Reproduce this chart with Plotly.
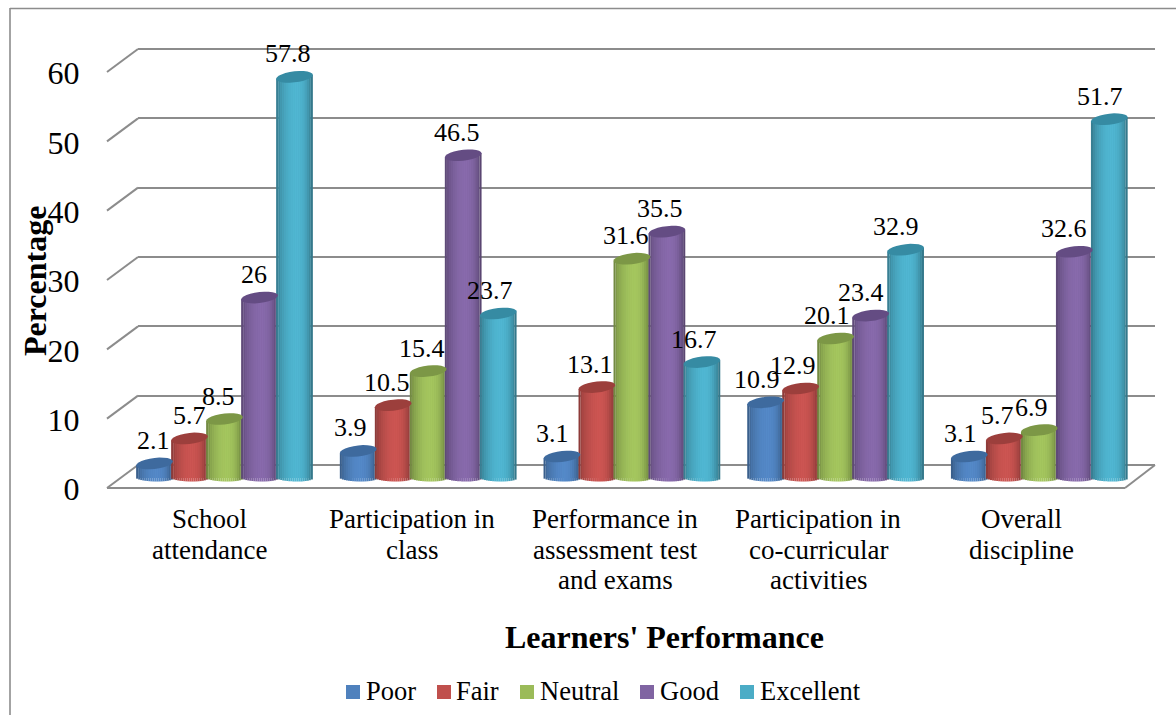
import math
import plotly.graph_objects as go

categories = [
    ["School", "attendance"],
    ["Participation in", "class"],
    ["Performance in", "assessment test", "and exams"],
    ["Participation in", "co-curricular", "activities"],
    ["Overall", "discipline"],
]
series_names = ["Poor", "Fair", "Neutral", "Good", "Excellent"]
poor = [2.1, 3.9, 3.1, 10.9, 3.1]
fair = [5.7, 10.5, 13.1, 12.9, 5.7]
neutral = [8.5, 15.4, 31.6, 20.1, 6.9]
good = [26, 46.5, 35.5, 23.4, 32.6]
excellent = [57.8, 23.7, 16.7, 32.9, 51.7]
series_values = [poor, fair, neutral, good, excellent]
y_ticks = [0, 10, 20, 30, 40, 50, 60]

# styling
colors = ["#4F81BD", "#C0504D", "#9BBB59", "#8064A2", "#4BACC6"]
top_colors = ["#3E6A9E", "#9C3F3C", "#7C9746", "#644C83", "#368BA3"]
shade = [0.74, 0.82, 0.88, 0.92, 0.96, 0.99, 1.02, 1.04, 1.05, 1.06, 1.06, 1.05, 1.03, 1.0, 0.95, 0.88, 0.8, 0.7]
label_dx = [
    [-1, -8, -9, -9, -9],
    [0, -6, -7, -8, -7],
    [-6, -6, -6, -9, -8],
    [-6, -6, -7, -10, -10],
    [-7, -8, -8, -10, -9],
]
W, H = 1176, 715
FONT = "Liberation Serif"
GREY = "#8c8c8c"
CAT_PX, CAT_STEP = 224.5, 203.7
BAR_PX, BAR_STEP = 36.7, 35.0
BASE_PX, UNIT_PX = 478.0, 6.94
ELL_B, ELL_TILT, FOOT_B, FOOT_TILT = 5.5, 2.0, 3.5, 0.5
WALL_PAD = 7 * 416 / 420  # one axis unit of padding, so the end gridlines are kept


def px(v):
    return v / W


def py(v):
    return 1 - v / H


def tint(col, f):
    r, g, b = (int(col[i:i + 2], 16) for i in (1, 3, 5))
    return "rgb(%d,%d,%d)" % tuple(min(255, round(c * f)) for c in (r, g, b))


fig = go.Figure()

# back wall: gridlines come from its own axes
fig.add_trace(go.Scatter(x=[0, 1], y=[0, 60], mode="markers", marker=dict(opacity=0),
                         xaxis="x", yaxis="y", hoverinfo="skip", showlegend=False))

bw = BAR_PX / CAT_STEP
step = BAR_STEP / CAT_STEP
for k, (name, vals, col) in enumerate(zip(series_names, series_values, colors)):
    xs = [i + (k - 2) * step for i in range(len(vals))]
    fig.add_trace(go.Bar(x=xs, y=vals, width=bw * 0.85, name=name, xaxis="x2", yaxis="y2",
                         marker=dict(color=col, line=dict(width=0)), showlegend=False))
    n = len(shade)
    sx, sy, sb, sc = [], [], [], []
    for x0, v in zip(xs, vals):
        for j, f in enumerate(shade):
            t = (j + 0.5) / n * 2 - 1
            foot = -(math.sqrt(1 - t * t) * FOOT_B + FOOT_TILT * t) / UNIT_PX
            head = v + ELL_TILT * t / UNIT_PX
            sx.append(x0 + t * bw / 2)
            sb.append(foot)
            sy.append(head - foot)
            sc.append(tint(col, f))
    fig.add_trace(go.Bar(x=sx, y=sy, base=sb, width=bw / n * 1.02, xaxis="x2", yaxis="y2",
                         marker=dict(color=sc, line=dict(width=0)), showlegend=False,
                         hoverinfo="skip"))

# invisible carrier for the front value axis
fig.add_trace(go.Scatter(x=[0, 1], y=[0, 60], mode="markers", marker=dict(opacity=0),
                         xaxis="x3", yaxis="y3", hoverinfo="skip", showlegend=False))

shapes, annos = [], []


def line(x0, y0, x1, y1, width=2):
    shapes.append(dict(type="line", xref="paper", yref="paper", x0=px(x0), y0=py(y0),
                       x1=px(x1), y1=py(y1), line=dict(color=GREY, width=width), layer="below"))


# page frame
line(10, 8.5, W, 8.5, 1.6)
line(10, 8, 10, H, 1.6)
# wall side and floor
for tk in y_ticks:
    d = tk * 416 / 60
    line(107, 488 - d, 138, 465 - d)
line(107, 488, 1125, 488)
line(1125, 488, 1155, 465)

# cylinder tops
for k, (vals, col) in enumerate(zip(series_values, top_colors)):
    for i, v in enumerate(vals):
        cx = i + (k - 2) * step
        pts = []
        for a in range(0, 360, 15):
            th = math.radians(a)
            dx = BAR_PX / 2 * math.cos(th)
            dy = ELL_B * math.sin(th) + ELL_TILT * math.cos(th)
            pts.append("%.5f,%.4f" % (cx + dx / CAT_STEP, v + dy / UNIT_PX))
        shapes.append(dict(type="path", xref="x2", yref="y2", path="M" + " L".join(pts) + " Z",
                           fillcolor=col, line=dict(width=0), layer="above"))
        annos.append(dict(x=cx, y=v, xref="x2", yref="y2", text=str(v), showarrow=False,
                          xshift=label_dx[k][i], yshift=23, xanchor="center", yanchor="middle",
                          font=dict(family=FONT, size=26, color="black")))

# category labels, one line at a time for the tight leading
for i, lines in enumerate(categories):
    for j, txt in enumerate(lines):
        annos.append(dict(x=i, xref="x3", y=py(519 + j * 30.5), yref="paper", text=txt,
                          xanchor="center", yanchor="middle", showarrow=False,
                          font=dict(family=FONT, size=27, color="black")))

annos.append(dict(x=px(664), y=py(637), xref="paper", yref="paper", text="<b>Learners' Performance</b>",
                  xanchor="center", yanchor="middle", showarrow=False,
                  font=dict(family=FONT, size=32, color="black")))
annos.append(dict(x=px(35), y=py(281), xref="paper", yref="paper", text="<b>Percentage</b>", textangle=-90,
                  xanchor="center", yanchor="middle", showarrow=False,
                  font=dict(family=FONT, size=32, color="black")))

# key
key_swatch = [346, 437, 520, 640, 740]
key_text = [366, 456, 540, 660, 760]
for name, col, sx0, tx0 in zip(series_names, colors, key_swatch, key_text):
    shapes.append(dict(type="rect", xref="paper", yref="paper", x0=px(sx0), x1=px(sx0 + 14),
                       y0=py(685), y1=py(699), fillcolor=col, line=dict(width=0)))
    annos.append(dict(x=px(tx0 - 2), y=py(691), xref="paper", yref="paper", text=name, xanchor="left",
                      yanchor="middle", showarrow=False,
                      font=dict(family=FONT, size=26.5, color="black")))

hidden = dict(showticklabels=False, showgrid=False, zeroline=False, showline=False, ticks="")
fig.update_layout(
    width=W, height=H, autosize=False, margin=dict(l=0, r=0, t=0, b=0, autoexpand=False),
    paper_bgcolor="white", plot_bgcolor="rgba(0,0,0,0)", barmode="overlay", showlegend=False,
    hovermode=False,
    xaxis=dict(domain=[px(138), px(1155)], range=[0, 1], **hidden),
    yaxis=dict(domain=[py(465 + WALL_PAD), py(49 - WALL_PAD)], range=[-1, 61], tickvals=y_ticks, showgrid=True,
               gridcolor=GREY, gridwidth=2, zeroline=False, showline=False,
               showticklabels=False, ticks=""),
    xaxis2=dict(domain=[0, 1], range=[-CAT_PX / CAT_STEP, (W - CAT_PX) / CAT_STEP], anchor="y2", **hidden),
    yaxis2=dict(domain=[0, 1], range=[(BASE_PX - H) / UNIT_PX, BASE_PX / UNIT_PX], anchor="x2", **hidden),
    xaxis3=dict(domain=[0, 1], range=[-209 / 203, (W - 209) / 203], anchor="y3", **hidden),
    yaxis3=dict(domain=[py(489), py(73)], range=[0, 60], tickvals=y_ticks, anchor="free",
                position=px(107), side="left", ticks="outside", ticklen=21,
                tickcolor="rgba(0,0,0,0)", showgrid=False, zeroline=False, showline=False,
                tickfont=dict(family=FONT, size=32, color="black")),
    shapes=shapes, annotations=annos,
)
fig.write_html("out.html", config={"displayModeBar": False},
               post_script="document.body.style.margin='0';document.body.style.overflow='hidden';")
